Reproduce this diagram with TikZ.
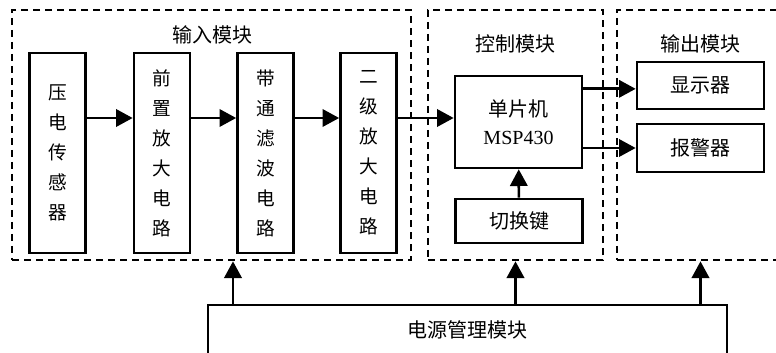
\documentclass[tikz,border=0pt]{standalone}
\usepackage{fontspec}
\setmainfont{Liberation Serif}
\newfontfamily\cjk{Noto Sans CJK SC}
\usetikzlibrary{arrows.meta}

\begin{document}
\begin{tikzpicture}[x=0.75pt, y=-0.75pt,
  modbox/.style={draw, black, line width=2pt, dash pattern=on 5.5pt off 3.5pt},
  vbox/.style={draw, black, line width=2pt, minimum width=42pt, minimum height=150pt, inner sep=0pt, align=center, font=\cjk\fontsize{14}{22.5}\selectfont},
  hbox/.style={draw, black, line width=2pt, minimum width=95.25pt, align=center, font=\cjk\fontsize{15}{21}\selectfont},
  modtitle/.style={font=\cjk\fontsize{15}{18}\selectfont},
  arr/.style={black, line width=2pt, -{Triangle[length=12.5pt,width=13pt]}}]
\useasboundingbox (0,0) rectangle (776,353);

\node[modbox, minimum width=299.25pt, minimum height=187.5pt] (inmod) at (211.5,135) {};
\node[modbox, minimum width=131.25pt, minimum height=187.5pt] (ctrlmod) at (515.5,135) {};
\node[modbox, minimum width=137.25pt, minimum height=187.5pt] (outmod) at (708.5,135) {};
\node[modtitle] (intitle) at (212,35) {输入模块};
\node[modtitle] (ctrltitle) at (515,44) {控制模块};
\node[modtitle] (outtitle) at (700,44) {输出模块};

\node[vbox] (sensor) at (57.5,153) {压\\电\\传\\感\\器};
\node[vbox] (preamp) at (162,153) {前\\置\\放\\大\\电\\路};
\node[vbox] (filter) at (265.5,153) {带\\通\\滤\\波\\电\\路};
\node[vbox] (amp) at (368.5,153) {二\\级\\放\\大\\电\\路};

\node[hbox, minimum height=69pt] (mcu) at (518.5,122) {单片机\\{\normalfont MSP430}};
\node[hbox, minimum height=33pt] (key) at (519,221) {切换键};
\node[hbox, minimum height=35.25pt] (disp) at (700.5,85.5) {显示器};
\node[hbox, minimum height=36pt] (alarm) at (700.5,148) {报警器};
\node[hbox, minimum width=389.25pt, minimum height=37.5pt] (power) at (467.5,330) {电源管理模块};

\coordinate (sig) at ([yshift=26.25pt]amp.east);
\draw[arr] ([yshift=26.25pt]sensor.east) -- ([yshift=26.25pt]preamp.west);
\draw[arr] ([yshift=26.25pt]preamp.east) -- ([yshift=26.25pt]filter.west);
\draw[arr] ([yshift=26.25pt]filter.east) -- ([yshift=26.25pt]amp.west);
\draw[arr] (sig) -- (sig -| mcu.west);
\draw[arr] (key) -- (mcu);
\draw[arr] ([yshift=-2.5pt]mcu.east |- disp.west) -- ([yshift=-2.5pt]disp.west);
\draw[arr] (mcu.east |- alarm.west) -- (alarm.west);

\draw[arr] (power.north -| 233,0) -- (inmod.south -| 233,0);
\draw[arr] (power.north -| ctrlmod.south) -- (ctrlmod.south);
\draw[arr] (power.north -| disp.south) -- (outmod.south -| disp.south);

\end{tikzpicture}
\end{document}
